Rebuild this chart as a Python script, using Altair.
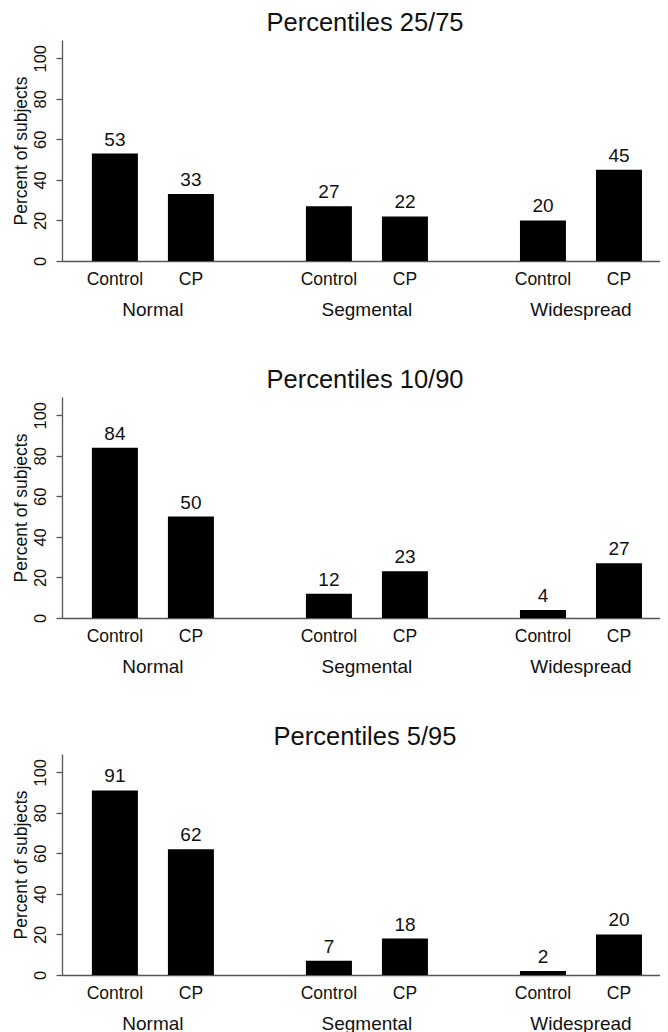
import altair as alt
import pandas as pd

groups = ["Normal", "Segmental", "Widespread"]
subgroups = ["Control", "CP"]
titles = ["Percentiles 25/75", "Percentiles 10/90", "Percentiles 5/95"]
vals_25_75 = [53, 33, 27, 22, 20, 45]
vals_10_90 = [84, 50, 12, 23, 4, 27]
vals_5_95 = [91, 62, 7, 18, 2, 20]
y_ticks = [0, 20, 40, 60, 80, 100]

FONT = "Liberation Sans"
INK = "#111111"
AXIS = "#555555"
W = 598
H = 221


def panel(title, values):
    rows = []
    i = 0
    for g in groups:
        for s in subgroups:
            rows.append({"group": g, "sub": s, "value": values[i]})
            i += 1
    df = pd.DataFrame(rows)

    x = alt.X(
        "group:N",
        sort=groups,
        scale=alt.Scale(paddingInner=0.29, paddingOuter=0.042, align=0.83),
        axis=alt.Axis(
            title=None, labelAngle=0, labelFontSize=19, labelFont=FONT,
            labelColor=INK, labelPadding=54, labelBaseline="alphabetic",
            ticks=False, tickSize=0, domainColor=AXIS, domainWidth=1.3,
        ),
    )
    xo = alt.XOffset(
        "sub:N", sort=subgroups,
        scale=alt.Scale(paddingInner=0.395, paddingOuter=0.197),
    )
    y = alt.Y(
        "value:Q",
        scale=alt.Scale(domain=[0, 109], nice=False, zero=True),
        axis=alt.Axis(
            values=y_ticks, title="Percent of subjects", titleFont=FONT,
            titleFontSize=17.5, titleFontWeight="normal", titleColor=INK,
            titlePadding=2, labelAngle=270, labelAlign="center",
            labelBaseline="alphabetic", labelFont=FONT, labelFontSize=16.5,
            labelColor=INK, labelPadding=11, tickSize=6, tickColor=AXIS,
            tickWidth=1.3, domainColor=AXIS, domainWidth=1.3,
        ),
    )
    base = alt.Chart(df)
    bars = base.mark_bar(color="black").encode(x=x, xOffset=xo, y=y)
    vals = base.mark_text(
        baseline="alphabetic", dy=-8, fontSize=19, font=FONT, color=INK
    ).encode(x=x, xOffset=xo, y=y, text="value:Q")
    subs = base.mark_text(
        baseline="alphabetic", fontSize=17.5, font=FONT, color=INK
    ).encode(x=x, xOffset=xo, y=alt.value(H + 24), text="sub:N")
    return alt.layer(bars, vals, subs).properties(
        width=W, height=H,
        title=alt.TitleParams(
            text=title, font=FONT, fontSize=25.5, fontWeight="normal",
            color=INK, anchor="middle", frame="group",
            baseline="bottom", offset=-21, dx=4,
        ),
    )


chart = alt.vconcat(
    panel(titles[0], vals_25_75),
    panel(titles[1], vals_10_90),
    panel(titles[2], vals_5_95),
    spacing=48,
).properties(
    padding={"left": 3, "top": 2, "right": 0, "bottom": 0}
).configure_axis(grid=False).configure_view(stroke=None)

chart.save("out.html", embed_options={"renderer": "svg", "actions": False})
